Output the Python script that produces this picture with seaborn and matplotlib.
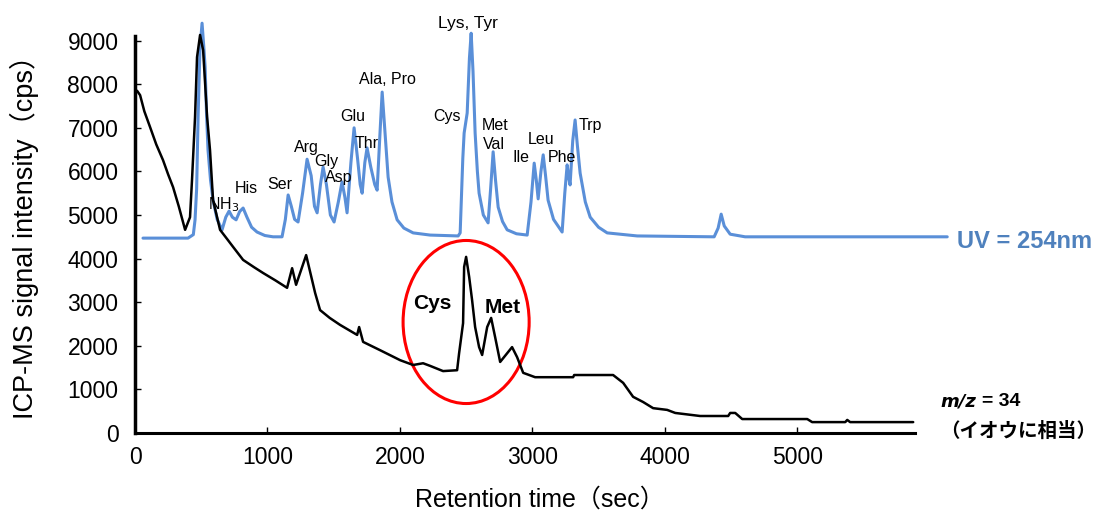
import matplotlib
matplotlib.use('Agg')
import matplotlib.pyplot as plt
from matplotlib.patches import Ellipse
import pandas as pd
import seaborn as sns

# ICP-MS trace (m/z = 34), retention time in sec / intensity in cps
ms_time = [15, 38, 70, 113, 160, 211, 250, 287, 330, 378, 415, 430, 453, 468, 491, 514,
           544, 566, 589, 642, 700, 740, 816, 900, 967, 1060, 1148, 1186, 1216, 1292,
           1360, 1397, 1470, 1548, 1677, 1692, 1722, 1850, 2002, 2100, 2175, 2228,
           2326, 2432, 2447, 2477, 2485, 2500, 2523, 2545, 2568, 2598, 2621, 2659,
           2689, 2719, 2757, 2810, 2847, 2885, 2931, 3021, 3308, 3316, 3610, 3686,
           3761, 3837, 3912, 4018, 4079, 4267, 4479, 4494, 4532, 4585, 5076, 5113,
           5363, 5378, 5400, 5876]
ms_signal = [7850, 7750, 7380, 7020, 6620, 6260, 5930, 5640, 5200, 4660, 4950, 5800,
             7250, 8620, 9130, 8780, 7250, 6490, 5340, 4660, 4430, 4270, 3970, 3800,
             3670, 3500, 3330, 3780, 3400, 4080, 3210, 2820, 2640, 2480, 2250, 2430,
             2090, 1900, 1670, 1560, 1600, 1540, 1420, 1440, 1830, 2520, 3810, 4040,
             3580, 3050, 2430, 1970, 1790, 2430, 2640, 2200, 1630, 1830, 1970, 1740,
             1380, 1280, 1280, 1330, 1330, 1150, 830, 710, 570, 530, 460, 390, 390,
             460, 460, 320, 320, 250, 250, 300, 250, 250]

# UV = 254 nm trace, drawn on the same cps scale (offset baseline)
uv_time = [60, 400, 440, 453, 465, 476, 490, 506, 518, 529, 540, 551, 570, 589, 620,
           657, 685, 710, 735, 763, 790, 816, 845, 880, 921, 980, 1042, 1110, 1135,
           1156, 1180, 1205, 1231, 1265, 1299, 1330, 1355, 1375, 1400, 1420, 1445,
           1475, 1503, 1535, 1563, 1585, 1601, 1630, 1654, 1680, 1700, 1715, 1735,
           1752, 1780, 1810, 1828, 1850, 1866, 1885, 1911, 1940, 1979, 2030, 2100,
           2228, 2440, 2455, 2475, 2485, 2508, 2525, 2538, 2552, 2568, 2585, 2598,
           2630, 2666, 2685, 2704, 2722, 2742, 2775, 2810, 2880, 2961, 2990, 3014,
           3030, 3044, 3065, 3082, 3100, 3119, 3160, 3225, 3245, 3263, 3275, 3285,
           3305, 3323, 3340, 3361, 3400, 3437, 3500, 3565, 3792, 4373, 4403, 4426,
           4449, 4494, 4607, 6133]
uv_signal = [4470, 4470, 4550, 4890, 5600, 7250, 8800, 9400, 8900, 8400, 7300, 6490,
             5800, 5340, 4900, 4660, 4950, 5090, 4950, 4890, 5080, 5160, 4950, 4720,
             4610, 4530, 4500, 4500, 4900, 5460, 5200, 4900, 4840, 5500, 6280, 5900,
             5200, 5050, 5700, 6100, 5700, 5000, 4840, 5300, 5760, 5400, 5050, 6200,
             7000, 6300, 5700, 5500, 6200, 6540, 6100, 5700, 5570, 6900, 7820, 7000,
             5870, 5300, 4890, 4700, 4590, 4540, 4520, 4590, 6300, 6880, 7340, 8600,
             9170, 8300, 6880, 6000, 5500, 5000, 4820, 5600, 6450, 5800, 5180, 4850,
             4660, 4570, 4540, 5300, 6190, 5800, 5370, 6000, 6380, 5900, 5340, 4900,
             4610, 5500, 6150, 5850, 5690, 6700, 7180, 6600, 5960, 5300, 4950, 4720,
             4590, 4520, 4500, 4700, 5020, 4750, 4560, 4500, 4500]

# peak names on the UV trace and where they sit
peak_names = ['NH$_3$', 'His', 'Ser', 'Arg', 'Gly', 'Asp', 'Glu', 'Thr', 'Ala, Pro',
              'Lys, Tyr', 'Cys', 'Met', 'Val', 'Ile', 'Leu', 'Phe', 'Trp']
peak_x = [668, 840, 1095, 1292, 1443, 1541, 1647, 1752, 1903,
          2515, 2356, 2719, 2711, 2915, 3066, 3225, 3437]
peak_y = [5230, 5600, 5690, 6560, 6220, 5870, 7250, 6650, 8100,
          9400, 7250, 7060, 6610, 6330, 6740, 6330, 7060]

ms = pd.DataFrame({'time': ms_time, 'signal': ms_signal})
uv = pd.DataFrame({'time': uv_time, 'signal': uv_signal})

sns.set_style('ticks')
plt.rcParams['font.family'] = ['Liberation Sans', 'Noto Sans CJK JP', 'DejaVu Sans']
for key in ['text.color', 'axes.labelcolor', 'xtick.color', 'ytick.color', 'axes.edgecolor']:
    plt.rcParams[key] = 'black'

fig = plt.figure(figsize=(11.07, 5.2), dpi=100)
ax = fig.add_axes([0.122, 0.1673, 0.7046, 0.7965])

sns.lineplot(data=uv, x='time', y='signal', ax=ax, color='#5A8FD8', lw=2.2,
             estimator=None, sort=False, clip_on=False)
sns.lineplot(data=ms, x='time', y='signal', ax=ax, color='black', lw=1.8,
             estimator=None, sort=False)

for name, x, y in zip(peak_names, peak_x, peak_y):
    size = 12.5 if name == 'Lys, Tyr' else 11.5
    ax.text(x, y, name, fontsize=size, ha='center', va='center')

ax.text(2243, 2960, 'Cys', fontsize=15, fontweight='bold', ha='center', va='center')
ax.text(2779, 2870, 'Met', fontsize=15, fontweight='bold', ha='center', va='center')
ax.add_patch(Ellipse((2500, 2546), 952, 3740, fill=False, edgecolor='red', lw=2.2))

ax.set_xlim(0, 5890)
ax.set_ylim(0, 9500)
ax.set_xticks([0, 1000, 2000, 3000, 4000, 5000])
ax.set_yticks(range(0, 10000, 1000))
ax.tick_params(axis='both', direction='in', length=4, width=1, labelsize=16.5)
ax.tick_params(axis='x', pad=9)
ax.tick_params(axis='y', pad=12)
ax.spines['top'].set_visible(False)
ax.spines['right'].set_visible(False)
ax.spines['left'].set_linewidth(2.5)
ax.spines['bottom'].set_linewidth(2.2)
ax.spines['left'].set_bounds(0, 9100)
ax.set_xlabel('')
ax.set_ylabel('')

fig.text(540 / 1107, 1 - 500 / 520, 'Retention time（sec）', fontsize=18,
         ha='center', va='center')
fig.text(24 / 1107, 1 - 230 / 520, 'ICP-MS signal intensity（cps）', fontsize=19.5,
         ha='center', va='center', rotation=90)

fig.text(957 / 1107, 1 - 241 / 520, 'UV = 254nm', fontsize=17, fontweight='bold',
         color='#4F81BD', ha='left', va='center')
fig.text(940 / 1107, 1 - 402 / 520, 'm/z', fontsize=13, fontweight='bold',
         fontstyle='italic', family='DejaVu Sans', ha='left', va='center')
fig.text(982 / 1107, 1 - 402 / 520, '= 34', fontsize=14, fontweight='bold',
         ha='left', va='center')
fig.text(940 / 1107, 1 - 431 / 520, '（イオウに相当）', fontsize=14, fontweight='bold',
         family=['Noto Sans CJK JP', 'DejaVu Sans'], ha='left', va='center')

fig.savefig('out.png', dpi=100)
